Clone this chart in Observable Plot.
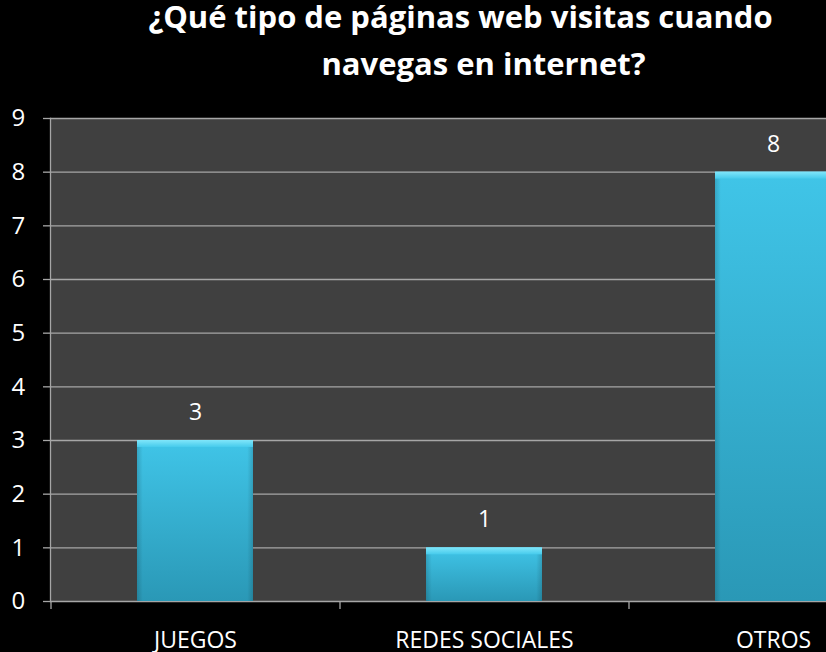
<!DOCTYPE html>
<html>
<head>
<meta charset="utf-8">
<script src="https://cdn.jsdelivr.net/npm/d3@7"></script>
<script src="https://cdn.jsdelivr.net/npm/@observablehq/plot@0.6"></script>
<style>
  html, body { margin: 0; padding: 0; background: #000; overflow: hidden; }
  #wrap { position: relative; width: 826px; height: 652px; overflow: hidden; background: #000; }
  #title { position: absolute; left: 50px; top: -7px; width: 867px; text-align: center;
    color: #fff; font-family: "Open Sans", Lato, sans-serif; font-weight: bold; font-size: 31px; line-height: 47px; }
  #title span { display: block; position: relative; }
  #title .l1 { left: -23px; }
  svg { overflow: hidden; }
</style>
</head>
<body>
<div id="wrap">
  <div id="chart"></div>
  <div id="title"><span class="l1">¿Qué tipo de páginas web visitas cuando</span><span>navegas en internet?</span></div>
</div>
<script>
const categories = ["JUEGOS", "REDES SOCIALES", "OTROS"];
const values = [3, 1, 8];
const yTicks = [0, 1, 2, 3, 4, 5, 6, 7, 8, 9];

const data = categories.map((c, i) => ({cat: c, v: values[i]}));

const W = 826, H = 652;
const xStart = 50, xEnd = 917;
const step = (xEnd - xStart) / categories.length;

const plot = Plot.plot({
  width: W,
  height: H,
  marginTop: 118,
  marginBottom: 51,
  marginLeft: 50,
  marginRight: 0,
  style: {background: "#000", color: "#fff", fontFamily: "'Open Sans', Lato, sans-serif", overflow: "hidden"},
  x: {domain: categories, range: [xStart, xEnd], paddingInner: 0.6, paddingOuter: 0.3, label: null},
  y: {domain: [0, 9], label: null, axis: null},
  marks: [
    Plot.frame({fill: "#404040", stroke: null}),
    Plot.ruleY(yTicks, {stroke: "#a6a6a6", strokeWidth: 1.3}),
    Plot.axisY({ticks: yTicks, tickSize: 7, tickFormat: () => "", stroke: "#a6a6a6", strokeWidth: 1.3, label: null}),
    Plot.text(yTicks, {y: d => d, text: d => String(d), frameAnchor: "left", dx: -39, textAnchor: "start", fill: "#fff", fontSize: 24}),
    Plot.frame({anchor: "left", stroke: "#a6a6a6", strokeWidth: 1.3}),
    Plot.ruleX(categories, {x: d => d, dx: -step / 2, y1: 0, y2: -0.15, stroke: "#a6a6a6", strokeWidth: 1.3}),
    Plot.barY(data, {x: "cat", y: "v", fill: "url(#barGrad)"}),
    Plot.barY(data, {x: "cat", y: "v", fill: "url(#edgeGrad)"}),
    Plot.barY(data, {x: "cat", y1: "v", y2: "v", insetBottom: -7, fill: "url(#topGrad)"}),
    Plot.text(data, {x: "cat", y: "v", text: d => String(d.v), dy: -28, fill: "#fff", fontSize: 23}),
    Plot.axisX({tickSize: 0, tickPadding: 30, fontSize: 23, fill: "#fff", label: null})
  ]
});

const ns = "http://www.w3.org/2000/svg";
const defs = document.createElementNS(ns, "defs");
defs.innerHTML = `
  <linearGradient id="barGrad" x1="0" y1="0" x2="0" y2="1">
    <stop offset="0" stop-color="#40c5e8"/>
    <stop offset="1" stop-color="#2a98b6"/>
  </linearGradient>
  <linearGradient id="edgeGrad" x1="0" y1="0" x2="1" y2="0">
    <stop offset="0" stop-color="#000" stop-opacity="0.15"/>
    <stop offset="0.05" stop-color="#000" stop-opacity="0"/>
    <stop offset="0.95" stop-color="#000" stop-opacity="0"/>
    <stop offset="1" stop-color="#000" stop-opacity="0.15"/>
  </linearGradient>
  <linearGradient id="topGrad" x1="0" y1="0" x2="0" y2="1">
    <stop offset="0" stop-color="#80e6fa"/>
    <stop offset="1" stop-color="#46cbec"/>
  </linearGradient>`;
plot.insertBefore(defs, plot.firstChild);
document.getElementById("chart").appendChild(plot);
</script>
</body>
</html>
